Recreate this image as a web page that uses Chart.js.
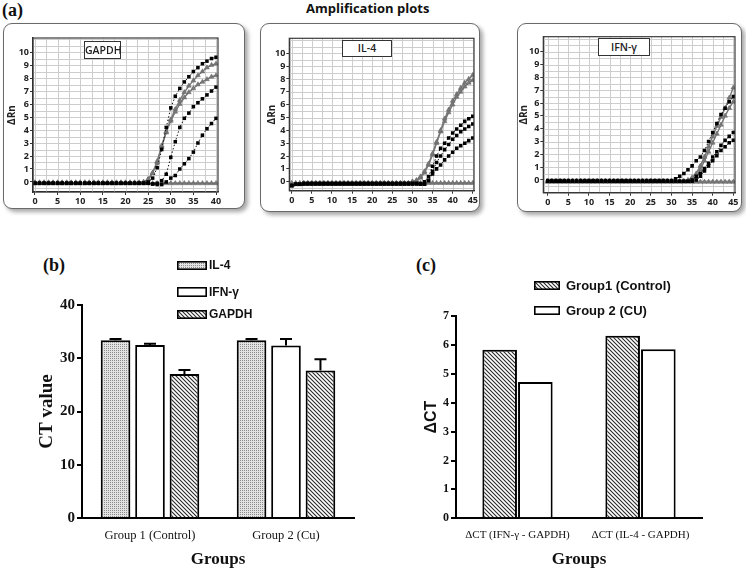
<!DOCTYPE html>
<html><head><meta charset="utf-8">
<script src="https://cdn.jsdelivr.net/npm/chart.js@4.4.0/dist/chart.umd.min.js"></script>
<style>
html,body{margin:0;padding:0;background:#fff;width:746px;height:570px;overflow:hidden;position:relative;}
canvas.c{position:absolute;}
.box{position:absolute;border:1.5px solid #6a6a6a;border-radius:9px;box-shadow:3px 3px 4px rgba(0,0,0,0.35);background:#fff;box-sizing:border-box;}
.lbl{position:absolute;border:1px solid #333;background:#fff;font-family:'Open Sans',sans-serif;font-weight:600;color:#222;text-align:center;box-sizing:border-box;white-space:nowrap;}
.panel{position:absolute;font:bold 18px 'Liberation Serif',serif;color:#111;line-height:1;}
.title{position:absolute;font:bold 13px 'Open Sans',sans-serif;color:#111;line-height:1;white-space:nowrap;}
.leg{position:absolute;font:bold 12px 'Liberation Sans',sans-serif;color:#111;display:flex;align-items:center;white-space:nowrap;}
.leg canvas{margin-right:2px;display:block;}
</style></head><body>

<div class="panel" style="left:2px;top:1px;">(a)</div>
<div class="title" style="left:306px;top:2px;">Amplification plots</div>

<div class="box" style="left:3px;top:23px;width:242px;height:186px;"></div>
<div class="box" style="left:260px;top:23px;width:220px;height:189px;"></div>
<div class="box" style="left:517px;top:23px;width:225px;height:189px;"></div>

<canvas class="c" id="ampG" width="242" height="186" style="left:3px;top:23px;"></canvas>
<canvas class="c" id="ampI" width="220" height="189" style="left:260px;top:23px;"></canvas>
<canvas class="c" id="ampF" width="225" height="189" style="left:517px;top:23px;"></canvas>

<div class="lbl" style="left:84px;top:41px;width:37px;height:18px;font-size:10.5px;line-height:16px;">GAPDH</div>
<div class="lbl" style="left:342px;top:40px;width:50px;height:17px;font-size:10.5px;line-height:15px;">IL-4</div>
<div class="lbl" style="left:598px;top:38px;width:52px;height:18px;font-size:10.5px;line-height:16px;">IFN-γ</div>

<div class="panel" style="left:43px;top:256px;">(b)</div>
<div class="panel" style="left:416px;top:256px;">(c)</div>

<canvas class="c" id="chartB" width="380" height="330" style="left:0px;top:240px;"></canvas>
<canvas class="c" id="chartC" width="366" height="330" style="left:380px;top:240px;"></canvas>

<div class="leg" style="left:177px;top:258px;height:14px;"><canvas id="swB1" width="30" height="9"></canvas>IL-4</div>
<div class="leg" style="left:177px;top:285px;height:14px;"><canvas id="swB2" width="30" height="10"></canvas>IFN-γ</div>
<div class="leg" style="left:177px;top:307px;height:14px;"><canvas id="swB3" width="30" height="9"></canvas>GAPDH</div>

<div class="leg" style="left:534px;top:278px;height:14px;font-size:13px;"><canvas id="swC1" width="26" height="9" style="margin-right:6px"></canvas>Group1 (Control)</div>
<div class="leg" style="left:534px;top:303px;height:14px;font-size:13px;"><canvas id="swC2" width="26" height="9" style="margin-right:6px"></canvas>Group 2 (CU)</div>

<script>
// ---------- Amplification plot data (ΔRn per cycle) ----------
const cycles40 = [0,1,2,3,4,5,6,7,8,9,10,11,12,13,14,15,16,17,18,19,20,21,22,23,24,25,26,27,28,29,30,31,32,33,34,35,36,37,38,39,40];
const cycles45 = [0,1,2,3,4,5,6,7,8,9,10,11,12,13,14,15,16,17,18,19,20,21,22,23,24,25,26,27,28,29,30,31,32,33,34,35,36,37,38,39,40,41,42,43,44,45];

const gapdhBlack1 = [-0.1,
 -0.1,-0.1,-0.1,-0.1,-0.1,-0.1,-0.1,-0.1,-0.1,-0.1,
 -0.1,-0.1,-0.1,-0.1,-0.1,-0.1,-0.1,-0.1,-0.1,-0.1,
 -0.1,-0.1,-0.1,-0.1,0.0,0.3,1.1,2.5,4.2,5.7,
 6.6,7.2,7.7,8.1,8.5,8.8,9.1,9.3,9.5,9.6];
const gapdhBlack2 = [-0.1,
 -0.1,-0.1,-0.1,-0.1,-0.1,-0.1,-0.1,-0.1,-0.1,-0.1,
 -0.1,-0.1,-0.1,-0.1,-0.1,-0.1,-0.1,-0.1,-0.1,-0.1,
 -0.1,-0.1,-0.1,-0.1,-0.1,-0.15,-0.1,0.1,0.6,1.9,
 3.1,4.2,4.9,5.3,5.8,6.1,6.4,6.7,7.0,7.3];
const gapdhBlack3 = [-0.1,
 -0.1,-0.1,-0.1,-0.1,-0.1,-0.1,-0.1,-0.1,-0.1,-0.1,
 -0.1,-0.1,-0.1,-0.1,-0.1,-0.1,-0.1,-0.1,-0.1,-0.1,
 -0.1,-0.1,-0.1,-0.1,-0.1,-0.15,-0.2,-0.2,0.0,0.3,
 0.5,1.0,1.4,1.8,2.3,3.0,3.6,4.1,4.5,4.9];
const gapdhGrayA = [-0.05,
 -0.05,-0.05,-0.05,-0.05,-0.05,-0.05,-0.05,-0.05,-0.05,-0.05,
 -0.05,-0.05,-0.05,-0.05,-0.05,-0.05,-0.05,-0.05,-0.05,-0.05,
 -0.05,-0.05,-0.05,0.0,0.2,0.7,1.6,2.8,3.9,4.8,
 5.6,6.3,6.9,7.4,7.8,8.2,8.5,8.8,9.0,9.1];
const gapdhGrayB = [-0.05,
 -0.05,-0.05,-0.05,-0.05,-0.05,-0.05,-0.05,-0.05,-0.05,-0.05,
 -0.05,-0.05,-0.05,-0.05,-0.05,-0.05,-0.05,-0.05,-0.05,-0.05,
 -0.05,-0.05,-0.05,0.0,0.2,0.7,1.5,2.7,3.8,4.7,
 5.4,6.0,6.5,6.9,7.2,7.5,7.7,7.9,8.1,8.2];
const gapdhNTC = [-0.1,
 -0.1,-0.1,-0.1,-0.1,-0.1,-0.1,-0.1,-0.1,-0.1,-0.1,
 -0.1,-0.1,-0.1,-0.1,-0.1,-0.1,-0.1,-0.1,-0.1,-0.1,
 -0.1,-0.1,-0.1,-0.1,-0.1,-0.1,-0.1,-0.1,-0.1,-0.1,
 -0.1,-0.1,-0.1,-0.1,-0.1,-0.1,-0.1,-0.1,-0.1,-0.1];

const il4TriA = [-0.3,
 -0.2,-0.2,-0.15,-0.15,-0.15,-0.15,-0.15,-0.15,-0.15,-0.15,
 -0.15,-0.15,-0.15,-0.15,-0.15,-0.15,-0.15,-0.15,-0.15,-0.15,
 -0.15,-0.15,-0.15,-0.15,-0.15,-0.15,-0.15,-0.15,-0.15,0.0,
 0.1,0.4,0.8,1.4,2.2,3.1,4.0,4.9,5.6,6.3,
 6.8,7.3,7.7,8.0,8.3];
const il4TriB = [-0.3,
 -0.2,-0.2,-0.15,-0.15,-0.15,-0.15,-0.15,-0.15,-0.15,-0.15,
 -0.15,-0.15,-0.15,-0.15,-0.15,-0.15,-0.15,-0.15,-0.15,-0.15,
 -0.15,-0.15,-0.15,-0.15,-0.15,-0.15,-0.15,-0.15,-0.15,0.0,
 0.1,0.3,0.7,1.3,2.1,3.0,3.9,4.7,5.4,6.0,
 6.6,7.0,7.4,7.7,7.9];
const il4BlackC = [-0.3,
 -0.2,-0.2,-0.15,-0.15,-0.15,-0.15,-0.15,-0.15,-0.15,-0.15,
 -0.15,-0.15,-0.15,-0.15,-0.15,-0.15,-0.15,-0.15,-0.15,-0.15,
 -0.15,-0.15,-0.15,-0.15,-0.15,-0.15,-0.15,-0.15,-0.15,-0.15,
 -0.15,-0.2,0.0,0.4,1.2,2.0,2.6,3.0,3.4,3.8,
 4.1,4.4,4.7,4.9,5.1];
const il4BlackD = [-0.3,
 -0.2,-0.2,-0.15,-0.15,-0.15,-0.15,-0.15,-0.15,-0.15,-0.15,
 -0.15,-0.15,-0.15,-0.15,-0.15,-0.15,-0.15,-0.15,-0.15,-0.15,
 -0.15,-0.15,-0.15,-0.15,-0.15,-0.15,-0.15,-0.15,-0.15,-0.15,
 -0.15,-0.15,-0.2,0.1,0.8,1.5,2.0,2.5,2.9,3.3,
 3.6,3.9,4.1,4.3,4.5];
const il4BlackE = [-0.3,
 -0.2,-0.2,-0.15,-0.15,-0.15,-0.15,-0.15,-0.15,-0.15,-0.15,
 -0.15,-0.15,-0.15,-0.15,-0.15,-0.15,-0.15,-0.15,-0.15,-0.15,
 -0.15,-0.15,-0.15,-0.15,-0.15,-0.15,-0.15,-0.15,-0.15,-0.15,
 -0.15,-0.2,-0.2,0.1,0.6,1.0,1.3,1.7,2.0,2.3,
 2.6,2.8,3.0,3.2,3.4];
const il4NTC = [-0.1,
 -0.1,-0.1,-0.1,-0.1,-0.1,-0.1,-0.1,-0.1,-0.1,-0.1,
 -0.1,-0.1,-0.1,-0.1,-0.1,-0.1,-0.1,-0.1,-0.1,-0.1,
 -0.1,-0.1,-0.1,-0.1,-0.1,-0.1,-0.1,-0.1,-0.1,-0.1,
 -0.1,-0.1,-0.1,-0.1,-0.1,-0.1,-0.1,-0.1,-0.1,-0.1,
 -0.1,-0.1,-0.1,-0.1,-0.1];

const ifnTriA = [-0.1,
 -0.1,-0.1,-0.1,-0.1,-0.1,-0.1,-0.1,-0.1,-0.1,-0.1,
 -0.1,-0.1,-0.1,-0.1,-0.1,-0.1,-0.1,-0.1,-0.1,-0.1,
 -0.1,-0.1,-0.1,-0.1,-0.1,-0.1,-0.1,-0.1,-0.1,-0.1,
 -0.1,-0.1,-0.1,0.0,0.2,0.5,1.1,1.8,2.6,3.4,
 4.2,4.9,5.6,6.4,7.2];
const ifnTriB = [-0.1,
 -0.1,-0.1,-0.1,-0.1,-0.1,-0.1,-0.1,-0.1,-0.1,-0.1,
 -0.1,-0.1,-0.1,-0.1,-0.1,-0.1,-0.1,-0.1,-0.1,-0.1,
 -0.1,-0.1,-0.1,-0.1,-0.1,-0.1,-0.1,-0.1,-0.1,-0.1,
 -0.1,-0.1,-0.1,-0.1,0.0,0.2,0.8,1.5,2.2,2.9,
 3.6,4.3,5.0,5.6,6.1];
const ifnBlackF = [-0.05,
 -0.05,-0.05,-0.05,-0.05,-0.05,-0.05,-0.05,-0.05,-0.05,-0.05,
 -0.05,-0.05,-0.05,-0.05,-0.05,-0.05,-0.05,-0.05,-0.05,-0.05,
 -0.05,-0.05,-0.05,-0.05,-0.05,-0.05,-0.05,-0.05,-0.05,-0.05,
 0.1,0.3,0.5,0.8,1.1,1.5,1.8,2.3,3.0,3.7,
 4.4,5.1,5.6,6.1,6.5];
const ifnBlackG = [-0.1,
 -0.1,-0.1,-0.1,-0.1,-0.1,-0.1,-0.1,-0.1,-0.1,-0.1,
 -0.1,-0.1,-0.1,-0.1,-0.1,-0.1,-0.1,-0.1,-0.1,-0.1,
 -0.1,-0.1,-0.1,-0.1,-0.1,-0.1,-0.1,-0.1,-0.1,-0.1,
 -0.1,-0.1,-0.1,-0.1,0.0,0.3,0.5,0.9,1.3,1.8,
 2.2,2.7,3.1,3.4,3.7];
const ifnBlackH = [-0.1,
 -0.1,-0.1,-0.1,-0.1,-0.1,-0.1,-0.1,-0.1,-0.1,-0.1,
 -0.1,-0.1,-0.1,-0.1,-0.1,-0.1,-0.1,-0.1,-0.1,-0.1,
 -0.1,-0.1,-0.1,-0.1,-0.1,-0.1,-0.1,-0.1,-0.1,-0.1,
 -0.1,-0.1,-0.1,-0.1,-0.1,0.0,0.3,0.7,1.1,1.5,
 1.9,2.3,2.6,2.9,3.1];
const ifnNTC = [-0.15,
 -0.15,-0.15,-0.15,-0.15,-0.15,-0.15,-0.15,-0.15,-0.15,-0.15,
 -0.15,-0.15,-0.15,-0.15,-0.15,-0.15,-0.15,-0.15,-0.15,-0.15,
 -0.15,-0.15,-0.15,-0.15,-0.15,-0.15,-0.15,-0.15,-0.15,-0.15,
 -0.15,-0.15,-0.15,-0.15,-0.15,-0.15,-0.15,-0.15,-0.15,-0.15,
 -0.15,-0.15,-0.15,-0.15,-0.15];

// ---------- Panel (b): CT values ----------
const groupsB = ['Group 1 (Control)', 'Group 2 (Cu)'];
const ctIL4 = [33.4, 33.4];
const ctIFN = [32.5, 32.4];
const ctGAPDH = [27.05, 27.7];
const errIL4 = [0.2, 0.2];
const errIFN = [0.2, 1.2];
const errGAPDH = [0.75, 2.1];

// ---------- Panel (c): ΔCT ----------
const groupsC = ['ΔCT (IFN-γ - GAPDH)', 'ΔCT (IL-4 - GAPDH)'];
const dctGroup1 = [5.83, 6.32];
const dctGroup2 = [4.72, 5.85];

// ---------- helpers ----------
function makeHatch(ctx){
  const c=document.createElement('canvas'); c.width=4; c.height=4;
  const x=c.getContext('2d'); x.fillStyle='#fff'; x.fillRect(0,0,4,4);
  x.strokeStyle='#2a2a2a'; x.lineWidth=1.1; x.beginPath();
  x.moveTo(-1,-1); x.lineTo(5,5); x.moveTo(-1,3); x.lineTo(1,5); x.moveTo(3,-1); x.lineTo(5,1); x.stroke();
  return ctx.createPattern(c,'repeat');
}
function makeDots(ctx){
  const c=document.createElement('canvas'); c.width=2; c.height=2;
  const x=c.getContext('2d'); x.fillStyle='#e2e2e2'; x.fillRect(0,0,2,2);
  x.fillStyle='#8c8c8c'; x.fillRect(0,0,1,1);
  return ctx.createPattern(c,'repeat');
}
function swatch(id, kind){
  const cv=document.getElementById(id); const x=cv.getContext('2d');
  x.fillStyle = kind==='hatch'?makeHatch(x):kind==='dots'?makeDots(x):'#fff';
  x.fillRect(0,0,cv.width,cv.height);
  x.strokeStyle='#000'; x.lineWidth=1.6; x.strokeRect(0.8,0.8,cv.width-1.6,cv.height-1.6);
}
function pts(cyc, vals){ return vals.map((v,i)=>({x:cyc[i], y:v})); }
function blackDs(cyc, vals){
  return {data:pts(cyc,vals), showLine:true, borderColor:'#111', borderWidth:1, borderDash:[1.5,2],
    pointStyle:'rect', pointRadius:2.5, pointBackgroundColor:'#000', pointBorderWidth:0, tension:0};
}
function grayDs(cyc, vals){
  return {data:pts(cyc,vals), showLine:true, borderColor:'#777', borderWidth:1.4,
    pointStyle:'triangle', pointRadius:2.8, pointBackgroundColor:'#777', pointBorderColor:'#666', pointBorderWidth:0.5, tension:0};
}
// background grid (every 2.5 cycles / 0.5 ΔRn) and plot frame, placed with the chart's own scales
const ampGrid = {id:'ampGrid', beforeDatasetsDraw(ch){
  const a=ch.chartArea, c=ch.ctx, xs=ch.scales.x, ys=ch.scales.y;
  c.save(); c.strokeStyle='#cdcdcd'; c.lineWidth=1; c.beginPath();
  for (let k=Math.ceil(xs.min/2.5); k*2.5<=xs.max; k++){ const p=Math.round(xs.getPixelForValue(k*2.5))+0.5; c.moveTo(p,a.top); c.lineTo(p,a.bottom); }
  for (let k=Math.ceil(ys.min/0.5); k*0.5<=ys.max; k++){ const p=Math.round(ys.getPixelForValue(k*0.5))+0.5; c.moveTo(a.left,p); c.lineTo(a.right,p); }
  c.stroke(); c.restore();
}, afterDraw(ch){
  const a=ch.chartArea, c=ch.ctx; c.save(); c.strokeStyle='#3a3a3a'; c.lineWidth=1.2;
  c.strokeRect(a.left,a.top,a.right-a.left,a.bottom-a.top); c.restore();
}};
const ampFont = {family:"'Open Sans', sans-serif", size:9, weight:'bold'};

function ampChart(id, datasets, g){
  return new Chart(document.getElementById(id), {
    type:'scatter',
    data:{datasets},
    plugins:[ampGrid],
    options:{
      responsive:false, animation:false, devicePixelRatio:1,
      layout:{padding:{top:g.padTop, right:g.padRight, left:0, bottom:0}},
      plugins:{legend:{display:false}, tooltip:{enabled:false}},
      scales:{
        x:{type:'linear', min:g.xmin, max:g.xmax,
          ticks:{autoSkip:false, maxRotation:0, padding:1, font:ampFont, color:'#222', callback:v=>String(Math.round(v))},
          grid:{display:true, drawOnChartArea:false, drawTicks:true, tickLength:3, color:'#333', lineWidth:1},
          border:{color:'#222', width:1.3},
          afterBuildTicks:s=>{ const t=[]; for (let k=0; k*5<=g.xlast; k++) t.push({value:k*5}); s.ticks=t; },
          afterFit:s=>{ s.height = g.xH; }
        },
        y:{type:'linear', min:g.ymin, max:g.ymax,
          ticks:{autoSkip:false, padding:1, font:ampFont, color:'#222', callback:v=>String(Math.round(v))},
          grid:{display:true, drawOnChartArea:false, drawTicks:true, tickLength:3, color:'#333', lineWidth:1},
          border:{color:'#222', width:1.3},
          title:{display:true, text:'ΔRn', color:'#222', font:{family:"'Open Sans', sans-serif", size:10, weight:'bold'}, padding:{top:g.tPad, bottom:0}},
          afterBuildTicks:s=>{ const t=[]; for (let k=0; k<=10; k++) t.push({value:k}); s.ticks=t; },
          afterFit:s=>{ s.width = g.yW; }
        }
      }
    }
  });
}

ampChart('ampG', [
  blackDs(cycles40, gapdhBlack1), blackDs(cycles40, gapdhBlack2), blackDs(cycles40, gapdhBlack3),
  grayDs(cycles40, gapdhGrayA), grayDs(cycles40, gapdhGrayB), grayDs(cycles40, gapdhNTC)
], {padTop:15, padRight:27, yW:30, xH:17, tPad:3.5, xmin:-0.44, xmax:40.44, xlast:40, ymin:-0.77, ymax:11.08});

ampChart('ampI', [
  blackDs(cycles45, il4BlackC), blackDs(cycles45, il4BlackD), blackDs(cycles45, il4BlackE),
  grayDs(cycles45, il4TriA), grayDs(cycles45, il4TriB), grayDs(cycles45, il4NTC)
], {padTop:15.3, padRight:6, yW:29.3, xH:21.3, tPad:6, xmin:-0.6, xmax:45.3, xlast:45, ymin:-0.70, ymax:11.17});

ampChart('ampF', [
  blackDs(cycles45, ifnBlackF), blackDs(cycles45, ifnBlackG), blackDs(cycles45, ifnBlackH),
  grayDs(cycles45, ifnTriA), grayDs(cycles45, ifnTriB), grayDs(cycles45, ifnNTC)
], {padTop:13.7, padRight:7, yW:26.3, xH:19.3, tPad:1, xmin:-1.07, xmax:45.4, xlast:45, ymin:-0.99, ymax:11.17});

// ---------- bar charts ----------
const serif = "'Liberation Serif', 'Times New Roman', serif";
const errorBars = {id:'errorBars', afterDatasetsDraw(ch){
  const c=ch.ctx, ys=ch.scales.y; c.save(); c.strokeStyle='#000'; c.lineWidth=2;
  ch.data.datasets.forEach((ds,i)=>{
    const meta=ch.getDatasetMeta(i);
    meta.data.forEach((el,j)=>{
      const top = ys.getPixelForValue(ds.data[j] + ds.err[j]);
      c.beginPath(); c.moveTo(el.x, el.y); c.lineTo(el.x, top);
      c.moveTo(el.x-6, top); c.lineTo(el.x+6, top); c.stroke();
    });
  });
  c.restore();
}};

const ctxB = document.getElementById('chartB').getContext('2d');
new Chart(ctxB, {
  type:'bar',
  data:{labels:groupsB, datasets:[
    {label:'IL-4', data:ctIL4, err:errIL4, backgroundColor:makeDots(ctxB), borderColor:'#000', borderWidth:2},
    {label:'IFN-γ', data:ctIFN, err:errIFN, backgroundColor:'#fff', borderColor:'#000', borderWidth:2},
    {label:'GAPDH', data:ctGAPDH, err:errGAPDH, backgroundColor:makeHatch(ctxB), borderColor:'#000', borderWidth:2}
  ]},
  plugins:[errorBars],
  options:{
    responsive:false, animation:false, devicePixelRatio:1,
    categoryPercentage:0.76, barPercentage:0.86,
    layout:{padding:{top:65, right:26, left:0, bottom:0}},
    plugins:{legend:{display:false}, tooltip:{enabled:false}},
    scales:{
      x:{grid:{display:false, drawTicks:false}, border:{color:'#000', width:2},
        ticks:{padding:10, font:{family:serif, size:12.5}, color:'#111'},
        title:{display:true, text:'Groups', color:'#111', font:{family:serif, size:17, weight:'bold'}, padding:{top:0, bottom:0}},
        afterFit:s=>{ s.height = 52; }},
      y:{min:0, max:40, ticks:{stepSize:10, padding:2, font:{family:serif, size:15, weight:'bold'}, color:'#111'},
        grid:{drawOnChartArea:false, drawTicks:true, tickLength:5, color:'#000', lineWidth:2},
        border:{color:'#000', width:2},
        title:{display:true, text:'CT value', color:'#111', font:{family:serif, size:19, weight:'bold'}, padding:{top:36, bottom:0}},
        afterFit:s=>{ s.width = 82; }}
    }
  }
});

const ctxC = document.getElementById('chartC').getContext('2d');
new Chart(ctxC, {
  type:'bar',
  data:{labels:groupsC, datasets:[
    {label:'Group1 (Control)', data:dctGroup1, backgroundColor:makeHatch(ctxC), borderColor:'#000', borderWidth:2},
    {label:'Group 2 (CU)', data:dctGroup2, backgroundColor:'#fff', borderColor:'#000', borderWidth:2}
  ]},
  options:{
    responsive:false, animation:false, devicePixelRatio:1,
    categoryPercentage:0.58, barPercentage:0.97,
    layout:{padding:{top:76, right:44, left:0, bottom:0}},
    plugins:{legend:{display:false}, tooltip:{enabled:false}},
    scales:{
      x:{grid:{display:false, drawTicks:false}, border:{color:'#000', width:2},
        ticks:{padding:10, font:{family:serif, size:11}, color:'#111'},
        title:{display:true, text:'Groups', color:'#111', font:{family:serif, size:17, weight:'bold'}, padding:{top:0, bottom:0}},
        afterFit:s=>{ s.height = 51.7; }},
      y:{min:0, max:7, ticks:{stepSize:1, padding:2, font:{family:serif, size:12, weight:'bold'}, color:'#111'},
        grid:{drawOnChartArea:false, drawTicks:true, tickLength:5, color:'#000', lineWidth:2},
        border:{color:'#000', width:2},
        title:{display:true, text:'ΔCT', color:'#111', font:{family:"'Liberation Sans', Arial, sans-serif", size:16, weight:'bold'}, padding:{top:42, bottom:0}},
        afterFit:s=>{ s.width = 76; }}
    }
  }
});

swatch('swB1','dots'); swatch('swB2','white'); swatch('swB3','hatch');
swatch('swC1','hatch'); swatch('swC2','white');
</script>
</body></html>
